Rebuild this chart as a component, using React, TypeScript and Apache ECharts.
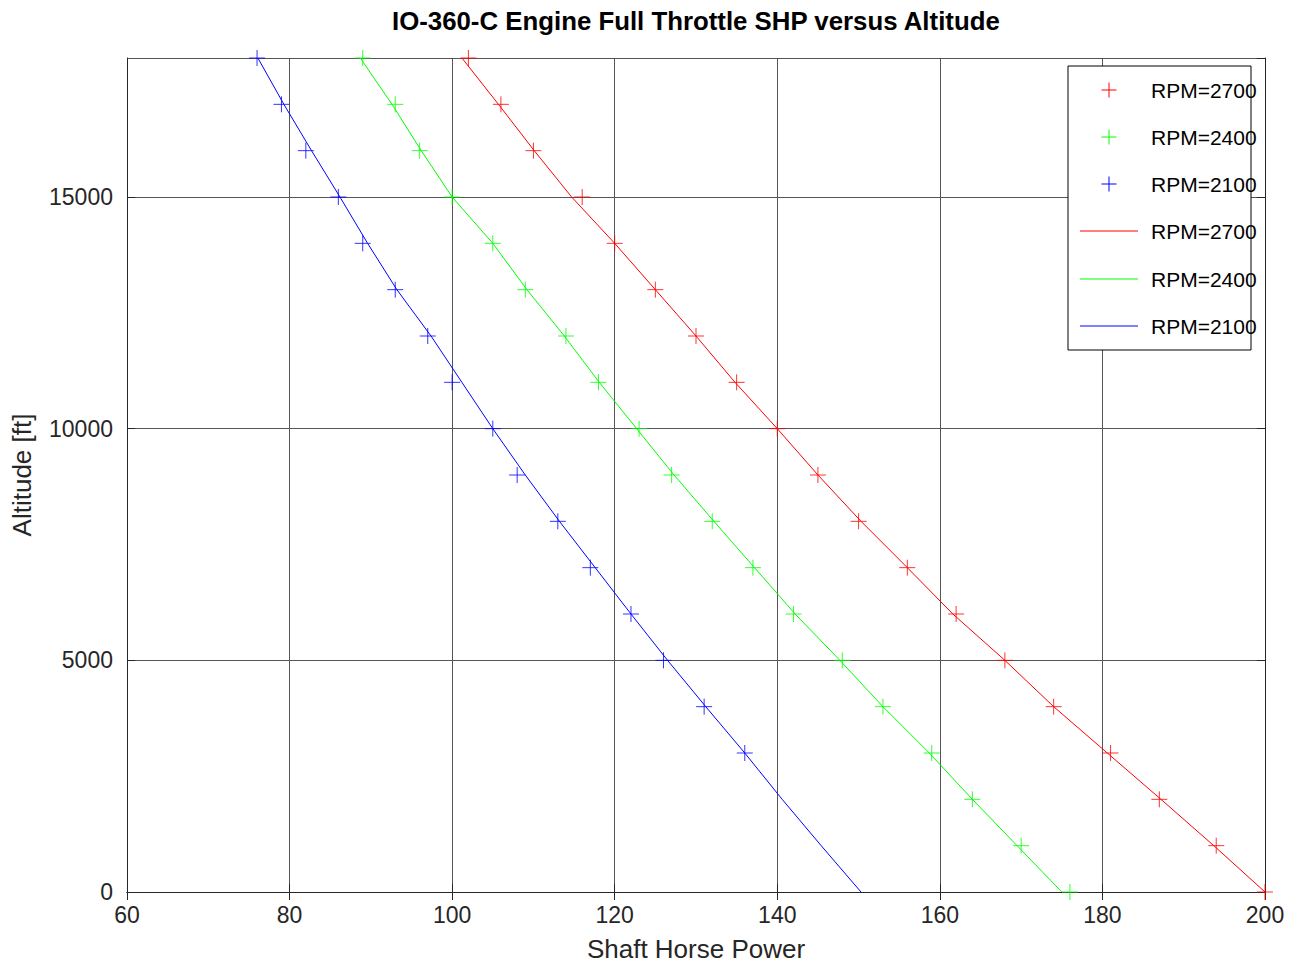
import React, { useEffect, useRef } from "react";
import * as echarts from "echarts";

const altitudes = [0, 1000, 2000, 3000, 4000, 5000, 6000, 7000, 8000, 9000, 10000, 11000, 12000, 13000, 14000, 15000, 16000, 17000, 18000];

// measured points (SHP) at each altitude
const pts2700 = [200, 194, 187, 181, 174, 168, 162, 156, 150, 145, 140, 135, 130, 125, 120, 116, 110, 106, 102];
const pts2400 = [176, 170, 164, 159, 153, 148, 142, 137, 132, 127, 123, 118, 114, 109, 105, 100, 96, 93, 89];
const alt2100 = [3000, 4000, 5000, 6000, 7000, 8000, 9000, 10000, 11000, 12000, 13000, 14000, 15000, 16000, 17000, 18000];
const pts2100 = [136, 131, 126, 122, 117, 113, 108, 105, 100, 97, 93, 89, 86, 82, 79, 76];

// fitted curves (SHP) at each altitude
const fit2700 = [200, 193.7, 187.2, 180.6, 174, 168, 161.6, 156, 150.3, 145, 140, 134.8, 130, 125, 120, 114.7, 110.1, 105.7, 101.2];
const fit2400 = [175.0, 169.5, 164, 158.7, 153, 147.7, 142.2, 137.2, 132.2, 127.3, 122.7, 118.1, 113.8, 109.2, 105, 100, 96.2, 92.6, 88.7];
const fit2100 = [150.3, 145.4, 140.6, 136, 131.2, 126.5, 122, 117.6, 113.2, 109, 105, 101.2, 97.4, 93.2, 89.6, 86.2, 82.7, 79.3, 76.1];

const legendLabels = ["RPM=2700", "RPM=2400", "RPM=2100", "RPM=2700", "RPM=2400", "RPM=2100"];
const colors = ["#ff0000", "#00ff00", "#0000ff"];

const FONT = '"Liberation Sans", Arial, Helvetica, sans-serif';
const PLUS = "path://M7,0L7,14M0,7L14,7";

function pairs(xs: number[], ys: number[]) {
  return xs.map((x, i) => [x, ys[i]]);
}

export default function App() {
  const ref = useRef<HTMLDivElement>(null);
  useEffect(() => {
    document.body.style.margin = "0";
    const chart = echarts.init(ref.current!, null, { renderer: "svg" });
    const gridColor = "#555555";
    const frame = "#262626";

    const legendX = 1068, legendY = 66, legendW = 183, legendH = 284;
    const rowYs = [90, 137, 184, 231, 279, 326];
    const legendEls: any[] = [
      { type: "rect", shape: { x: legendX, y: legendY, width: legendW, height: legendH }, style: { fill: "#fff", stroke: "#000", lineWidth: 1 }, z: 100 },
    ];
    rowYs.forEach((y, i) => {
      const c = colors[i % 3];
      if (i < 3) {
        legendEls.push({ type: "line", shape: { x1: 1101.5, y1: y, x2: 1116.5, y2: y }, style: { stroke: c, lineWidth: 1 }, z: 101 });
        legendEls.push({ type: "line", shape: { x1: 1109, y1: y - 7.5, x2: 1109, y2: y + 7.5 }, style: { stroke: c, lineWidth: 1 }, z: 101 });
      } else {
        legendEls.push({ type: "line", shape: { x1: 1080, y1: y, x2: 1138, y2: y }, style: { stroke: c, lineWidth: 1 }, z: 101 });
      }
      legendEls.push({
        type: "text",
        x: 1151,
        y: y,
        style: { text: legendLabels[i], font: `21px ${FONT}`, fill: "#000", textVerticalAlign: "middle", verticalAlign: "middle" },
        z: 101,
      });
    });

    const scatter = (name: string, ys: number[], xs: number[], c: string) => ({
      name,
      type: "scatter",
      data: pairs(xs, ys),
      symbol: PLUS,
      symbolSize: 16,
      itemStyle: { color: c, borderColor: c, borderWidth: 1 },
      z: 3,
    });
    const line = (name: string, xs: number[], c: string) => ({
      name,
      type: "line",
      data: pairs(xs, altitudes),
      showSymbol: false,
      symbol: "none",
      lineStyle: { color: c, width: 1 },
      z: 2,
    });

    chart.setOption({
      animation: false,
      backgroundColor: "#fff",
      title: {
        text: "IO-360-C Engine Full Throttle SHP versus Altitude",
        left: 387,
        top: 3,
        textStyle: { fontFamily: FONT, fontSize: 25.8, fontWeight: "bold", color: "#000" },
      },
      grid: { left: 127, right: 35, top: 58, bottom: 78 },
      xAxis: [
        {
          type: "value",
          min: 60,
          max: 200,
          interval: 20,
          position: "bottom",
          name: "Shaft Horse Power",
          nameLocation: "middle",
          nameGap: 44,
          nameTextStyle: { fontFamily: FONT, fontSize: 26, color: "#262626" },
          axisLine: { show: true, lineStyle: { color: frame, width: 1 } },
          axisTick: { show: true, inside: true, length: 8, lineStyle: { color: frame } },
          axisLabel: { fontFamily: FONT, fontSize: 23, color: "#262626", margin: 11 },
          splitLine: { show: true, lineStyle: { color: gridColor, width: 1 } },
        },
        {
          type: "value",
          min: 60,
          max: 200,
          interval: 20,
          position: "top",
          axisLine: { show: true, lineStyle: { color: frame, width: 1 } },
          axisTick: { show: true, inside: true, length: 8, lineStyle: { color: frame } },
          axisLabel: { show: false },
          splitLine: { show: false },
        },
      ],
      yAxis: [
        {
          type: "value",
          min: 0,
          max: 18000,
          interval: 5000,
          position: "left",
          name: "Altitude [ft]",
          nameLocation: "middle",
          nameGap: 92,
          nameTextStyle: { fontFamily: FONT, fontSize: 26, color: "#262626" },
          axisLine: { show: true, lineStyle: { color: frame, width: 1 } },
          axisTick: { show: true, inside: true, length: 8, lineStyle: { color: frame } },
          axisLabel: {
            fontFamily: FONT,
            fontSize: 23,
            color: "#262626",
            margin: 14,
            showMaxLabel: false,
            formatter: (v: number) => String(v),
          },
          splitLine: { show: true, lineStyle: { color: gridColor, width: 1 } },
        },
        {
          type: "value",
          min: 0,
          max: 18000,
          interval: 5000,
          position: "right",
          axisLine: { show: true, lineStyle: { color: frame, width: 1 } },
          axisTick: { show: true, inside: true, length: 8, lineStyle: { color: frame } },
          axisLabel: { show: false },
          splitLine: { show: false },
        },
      ],
      series: [
        scatter("RPM=2700", altitudes, pts2700, colors[0]),
        scatter("RPM=2400", altitudes, pts2400, colors[1]),
        scatter("RPM=2100", alt2100, pts2100, colors[2]),
        line("RPM=2700 fit", fit2700, colors[0]),
        line("RPM=2400 fit", fit2400, colors[1]),
        line("RPM=2100 fit", fit2100, colors[2]),
      ],
      graphic: legendEls,
    });
    return () => chart.dispose();
  }, []);
  return <div ref={ref} style={{ width: 1300, height: 970 }} />;
}
